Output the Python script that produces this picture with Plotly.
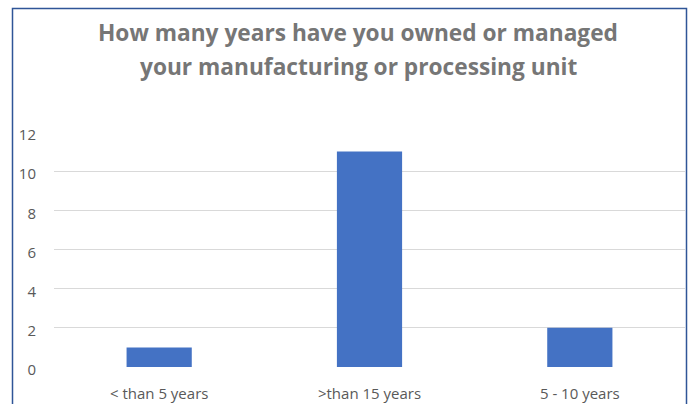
import plotly.graph_objects as go

# Survey responses: years of owning/managing the unit
categories = ["< than 5 years", ">than 15 years", "5 - 10 years"]
counts = [1, 11, 2]
y_ticks = [0, 2, 4, 6, 8, 10, 12]
title_lines = [
    "How many years have you owned or managed",
    "your manufacturing or processing unit",
]

W, H = 690, 404
L, R, T, B = 54, 5, 132, 37
plot_w = W - L - R
plot_h = H - T - B
FONT = "'Open Sans', Lato, sans-serif"


def px_x(px):
    return (px - L) / plot_w


def px_y(py):
    return (H - B - py) / plot_h


fig = go.Figure(
    go.Bar(
        x=categories,
        y=counts,
        marker=dict(color="#4472C4", line=dict(width=0)),
        width=0.31,
        hoverinfo="x+y",
    )
)

title_annotations = [
    dict(
        text=f"<b>{line}</b>",
        xref="paper",
        yref="paper",
        x=px_x(358),
        y=px_y(cy),
        xanchor="center",
        yanchor="middle",
        showarrow=False,
        font=dict(family=FONT, size=22.7, color="#767676"),
    )
    for line, cy in zip(title_lines, [32, 67])
]

fig.update_layout(
    width=W,
    height=H,
    margin=dict(l=L, r=R, t=T, b=B, pad=0, autoexpand=False),
    paper_bgcolor="white",
    plot_bgcolor="white",
    showlegend=False,
    font=dict(family=FONT, color="#595959"),
    annotations=title_annotations,
    xaxis=dict(
        showgrid=False,
        showline=False,
        zeroline=False,
        ticks="",
        automargin=False,
        tickfont=dict(size=15, color="#595959"),
        ticklabelstandoff=16,
    ),
    yaxis=dict(
        range=[0, 12],
        tickvals=y_ticks,
        showgrid=True,
        gridcolor="#D9D9D9",
        gridwidth=1,
        zeroline=False,
        showline=False,
        ticks="",
        automargin=False,
        tickfont=dict(size=15, color="#595959"),
        ticklabelstandoff=17,
        ticklabelshift=3,
    ),
    shapes=[
        dict(
            type="rect",
            xref="paper",
            yref="paper",
            x0=px_x(12.5),
            x1=px_x(686.5),
            y0=px_y(420),
            y1=px_y(8.5),
            line=dict(color="#2F5597", width=1.5),
            fillcolor="rgba(0,0,0,0)",
            layer="below",
        )
    ],
)

fig.write_html("out.html")
